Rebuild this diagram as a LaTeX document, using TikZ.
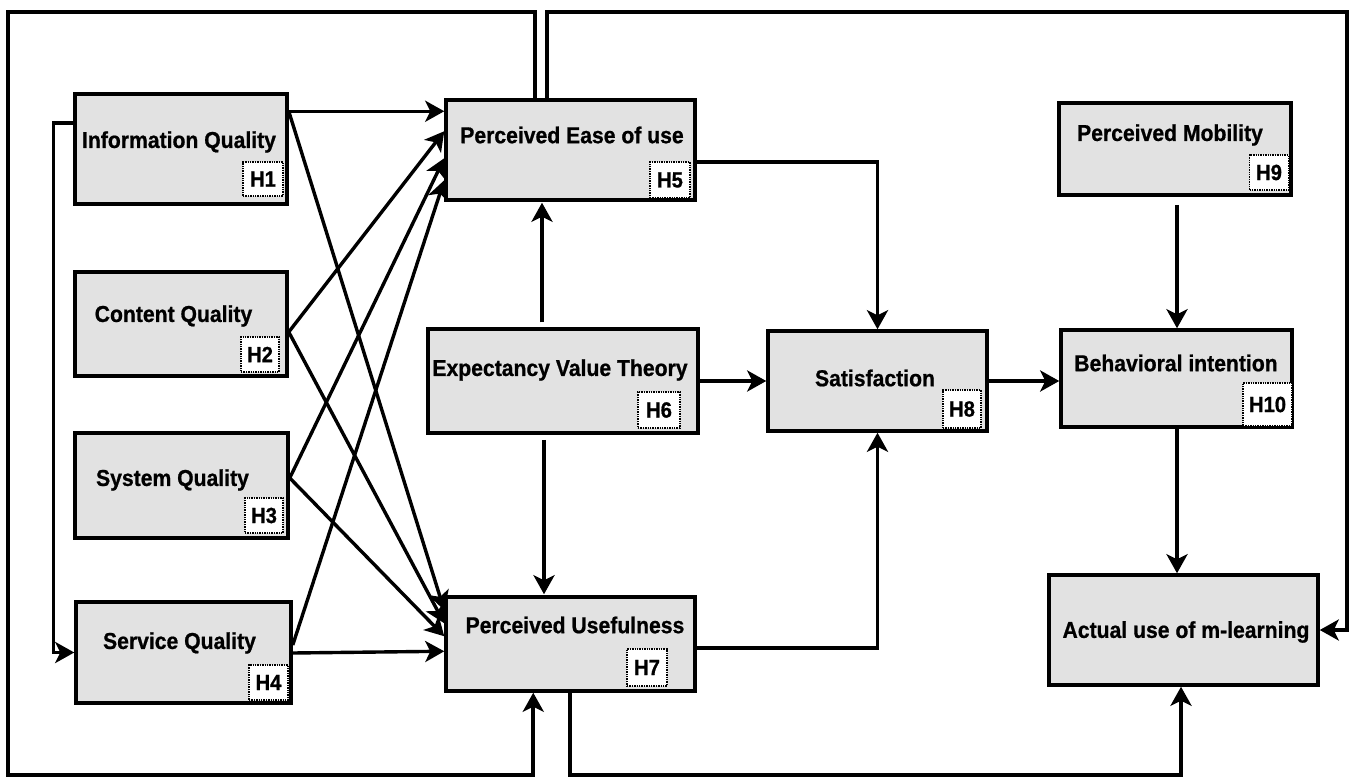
\documentclass[tikz,border=0pt]{standalone}
\usepackage{fontspec}
\setmainfont{Liberation Sans}
\newfontfamily\lblfont{Liberation Sans Bold}[FakeStretch=0.92, FakeBold=0.8]
\usetikzlibrary{arrows.meta,calc}
\definecolor{boxgray}{RGB}{226,226,226}
\begin{document}
\begin{tikzpicture}[x=1pt,y=-1pt,
  box/.style={draw=black, line width=3.5pt, fill=boxgray, inner sep=0pt},
  lbl/.style={font=\lblfont\fontsize{23}{26}\selectfont, inner sep=0pt},
  hyp/.style={draw=black, densely dotted, line width=1.4pt, fill=white, font=\lblfont\fontsize{22}{24}\selectfont, inner sep=0pt},
  tip/.style={-{Stealth[length=19pt,width=21pt,inset=5pt]}},
  conn/.style={line width=3.4pt, tip},
  loopln/.style={line width=4.2pt, tip}
]
\useasboundingbox (0,0) rectangle (1356,778);

% boxes
\node[box, minimum width=212pt, minimum height=110pt] (iq) at (181,149) {};
\node[box, minimum width=212pt, minimum height=104pt] (cq) at (181,324) {};
\node[box, minimum width=213pt, minimum height=105pt] (sysq) at (181.5,485.5) {};
\node[box, minimum width=215pt, minimum height=101pt] (svq) at (183.5,652.5) {};
\node[box, minimum width=249pt, minimum height=100pt] (peu) at (570.5,150) {};
\node[box, minimum width=270pt, minimum height=104pt] (evt) at (563,381) {};
\node[box, minimum width=249pt, minimum height=94pt] (pu) at (570.5,644) {};
\node[box, minimum width=219pt, minimum height=100pt] (sat) at (877.5,381) {};
\node[box, minimum width=232pt, minimum height=92pt] (pm) at (1175,149) {};
\node[box, minimum width=231pt, minimum height=97pt] (bi) at (1176.5,378.5) {};
\node[box, minimum width=269pt, minimum height=110pt] (au) at (1183.5,630) {};

% texts
\node[lbl] (tiq) at (179,142) {Information Quality};
\node[lbl] (tcq) at (173.5,316) {Content Quality};
\node[lbl] (tsysq) at (172.5,480) {System Quality};
\node[lbl] (tsvq) at (179.5,643) {Service Quality};
\node[lbl] (tpeu) at (572,135) {Perceived Ease of use};
\node[lbl] (tevt) at (560,370) {Expectancy Value Theory};
\node[lbl] (tpu) at (575,625) {Perceived Usefulness};
\node[lbl] (tsat) at (875,378) {Satisfaction};
\node[lbl] (tpm) at (1170,135) {Perceived Mobility};
\node[lbl] (tbi) at (1176,363) {Behavioral intention};
\node[lbl] (tau) at (1186,632) {Actual use of m-learning};

% hypothesis tags
\node[hyp, minimum width=40pt, minimum height=34pt] (h1) at (263,179) {H1};
\node[hyp, minimum width=38pt, minimum height=35pt] (h2) at (260,354.5) {H2};
\node[hyp, minimum width=38pt, minimum height=35pt] (h3) at (264,515.5) {H3};
\node[hyp, minimum width=39pt, minimum height=35pt] (h4) at (268.5,682.5) {H4};
\node[hyp, minimum width=40pt, minimum height=36pt] (h5) at (670,180) {H5};
\node[hyp, minimum width=42pt, minimum height=36pt] (h6) at (659,410) {H6};
\node[hyp, minimum width=40pt, minimum height=37pt] (h7) at (647,667.5) {H7};
\node[hyp, minimum width=38pt, minimum height=38pt] (h8) at (962,409) {H8};
\node[hyp, minimum width=39pt, minimum height=35pt] (h9) at (1269,172.5) {H9};
\node[hyp, minimum width=49pt, minimum height=43pt] (h10) at (1267.5,404.5) {H10};

% corner coordinates of the outer loops
\coordinate (ctl) at (8,12);
\coordinate (cbl) at (8,775);
\coordinate (ctr) at (1347,12);
\coordinate (cbr) at (1181,775);

% ports on the left boxes
\coordinate (piq) at ($(iq.north east)+(0,19)$);
\coordinate (pcq) at ($(cq.east)+(0,8)$);
\coordinate (psys) at ($(sysq.east)+(0,-7.5)$);
\coordinate (psvq) at ($(svq.east)+(0,-7.5)$);

% left group into PEU and PU
\draw[conn] (piq) -- ($(peu.north west)+(0,13)$);
\draw[conn] (piq) -- ($(pu.north west)+(0,15)$);
\draw[conn] (pcq) -- ($(peu.north west)+(0,33)$);
\draw[conn] (pcq) -- ($(pu.north west)+(0,28)$);
\draw[conn] (psys) -- ($(peu.north west)+(0,60)$);
\draw[conn] (psys) -- ($(pu.north west)+(0,41)$);
\draw[conn] (psvq) -- ($(peu.north west)+(0,82)$);
\draw[conn] ($(svq.east)+(0,0.5)$) -- ($(pu.north west)+(0,56)$);

% IQ -> Service Quality
\draw[conn] ($(iq.west)+(0,-26)$) -- ++(-20,0) |- (svq.west);

% EVT
\draw[conn] ($(evt.north)+(-21,-5)$) -- ($(peu.south)+(-28.5,1)$);
\draw[conn] ($(evt.south)+(-19,5)$) -- ($(pu.north)+(-26.5,-1)$);
\draw[conn] (evt.east) -- (sat.west);

% to satisfaction
\draw[conn] ($(peu.east)+(0,12)$) -| (sat.north);
\draw[conn] ($(pu.east)+(0,4)$) -| (sat.south);
\draw[conn] (sat.east) -- (sat.east -| bi.west);

% right column
\draw[conn] ($(pm.south)+(2,8)$) -- ($(bi.north)+(0.5,0)$);
\draw[conn] ($(bi.south)+(0.5,0)$) -- ($(au.north)+(-6.5,0)$);

% outer loops
\draw[loopln] ($(peu.north west)+(91,0)$) |- (ctl) -- (cbl) -| ($(pu.south west)+(89,0)$);
\draw[loopln] ($(peu.north west)+(103,0)$) |- (ctr) |- (au.east);
\draw[loopln] ($(pu.south west)+(126,0)$) |- (cbr) -- ($(au.south)+(-2.5,0)$);
\end{tikzpicture}
\end{document}
